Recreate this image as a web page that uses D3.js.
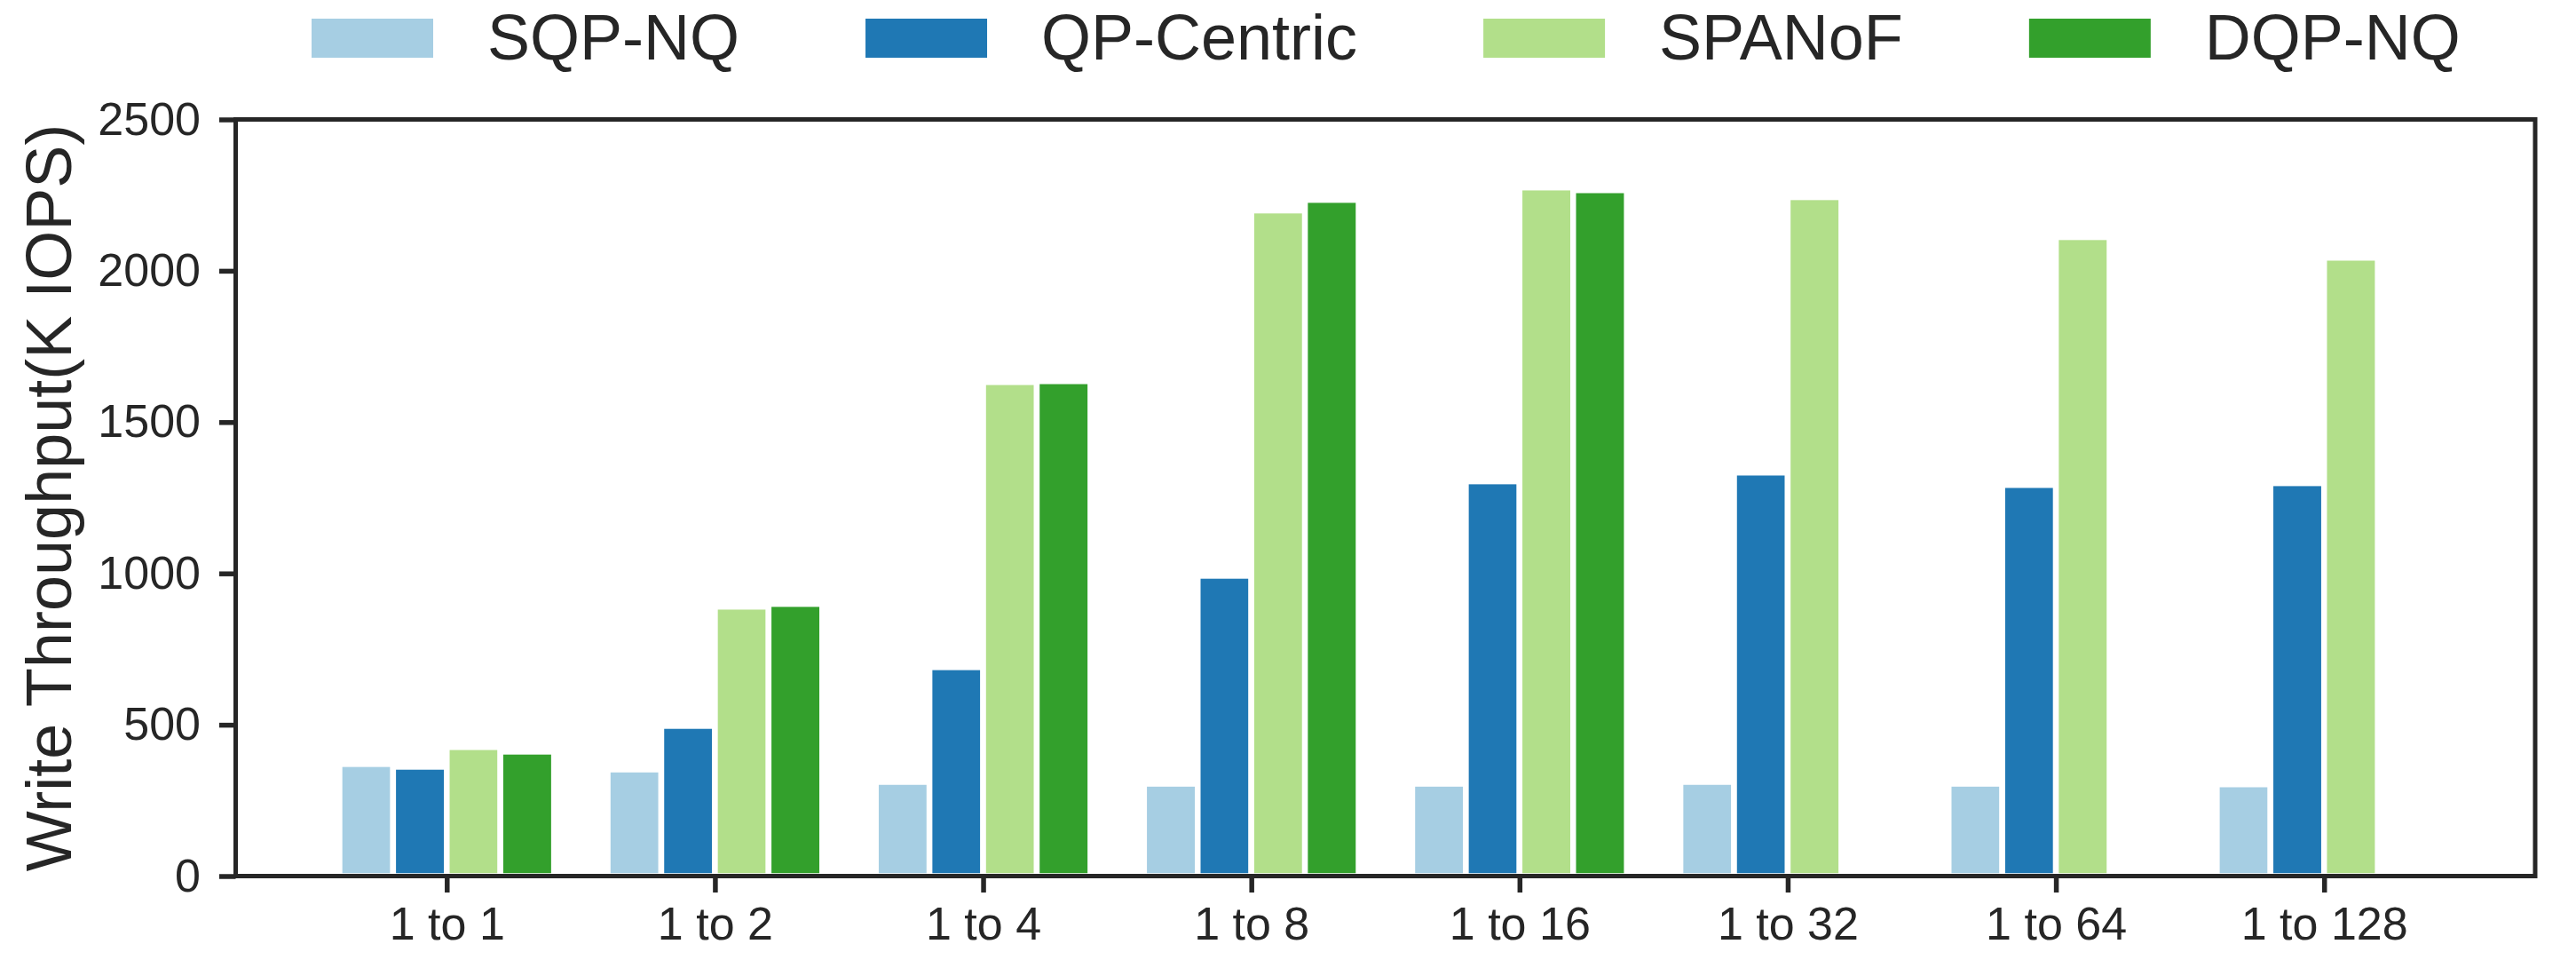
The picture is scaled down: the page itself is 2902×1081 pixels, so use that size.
<!DOCTYPE html>
<html>
<head>
<meta charset="utf-8">
<script src="https://cdn.jsdelivr.net/npm/d3@7"></script>
<style>
  body { margin: 0; background: #fff; }
  text { font-family: "Liberation Sans", Arial, Helvetica, sans-serif; fill: #262626; }
</style>
</head>
<body>
<svg id="chart" width="2902" height="1081"></svg>
<script>
var categories = ["1 to 1", "1 to 2", "1 to 4", "1 to 8", "1 to 16", "1 to 32", "1 to 64", "1 to 128"];
var seriesNames = ["SQP-NQ", "QP-Centric", "SPANoF", "DQP-NQ"];
var seriesColors = ["#a6cee3", "#1f78b4", "#b2df8a", "#33a02c"];
var sqpNq = [370, 352, 311, 305, 305, 311, 305, 303];
var qpCentric = [361, 496, 690, 992, 1304, 1333, 1292, 1298];
var spanof = [426, 890, 1632, 2199, 2275, 2243, 2111, 2043];
var dqpNq = [411, 899, 1635, 2234, 2266, null, null, null];
var yTicks = [0, 500, 1000, 1500, 2000, 2500];

var allSeries = [sqpNq, qpCentric, spanof, dqpNq];
var barWidth = 0.2;

// plot box (window.top is reserved, so own names)
var plotLeft = 265.5, plotRight = 2856, plotTop = 134.5, plotBottom = 986.5;
var ink = "#262626";

var svg = d3.select("#chart");

var x = d3.scaleLinear().domain([-0.787, categories.length - 1 + 0.787]).range([plotLeft, plotRight]);
var y = d3.scaleLinear().domain([0, 2500]).range([plotBottom, plotTop]);

// bars, one group per series
allSeries.forEach(function (vals, j) {
    var offset = (j - 2) * barWidth;
    svg.append("g").selectAll("rect")
        .data(vals.map(function (v, i) { return {i: i, v: v}; }).filter(function (d) { return d.v != null; }))
        .enter().append("rect")
        .attr("x", function (d) { return x(d.i + offset); })
        .attr("width", x(barWidth) - x(0))
        .attr("y", function (d) { return y(d.v); })
        .attr("height", function (d) { return y(0) - y(d.v); })
        .attr("fill", seriesColors[j])
        .attr("stroke", "#fff")
        .attr("stroke-width", 6.5);
});

// y axis
var yAxis = svg.append("g")
    .attr("transform", "translate(" + plotLeft + ",0)")
    .call(d3.axisLeft(y).tickValues(yTicks).tickSize(18.5).tickPadding(21).tickFormat(d3.format("d")));
yAxis.select(".domain").remove();
yAxis.selectAll("line").attr("stroke", ink).attr("stroke-width", 5.5);
yAxis.selectAll("text").style("font-size", "52px").attr("fill", ink);

// x axis
var xAxis = svg.append("g")
    .attr("transform", "translate(0," + plotBottom + ")")
    .call(d3.axisBottom(x).tickValues(d3.range(categories.length)).tickSize(18.5).tickPadding(16)
        .tickFormat(function (i) { return categories[i]; }));
xAxis.select(".domain").remove();
xAxis.selectAll("line").attr("stroke", ink).attr("stroke-width", 5.5);
xAxis.selectAll("text").style("font-size", "52px").attr("fill", ink);

// frame
svg.append("rect")
    .attr("x", plotLeft).attr("y", plotTop)
    .attr("width", plotRight - plotLeft).attr("height", plotBottom - plotTop)
    .attr("fill", "none").attr("stroke", ink).attr("stroke-width", 5);

// y label
svg.append("text")
    .attr("transform", "translate(80," + ((plotTop + plotBottom) / 2) + ") rotate(-90)")
    .attr("text-anchor", "middle")
    .style("font-size", "72px")
    .text("Write Throughput(K IOPS)");

// legend across the top
var lx = 351;
seriesNames.forEach(function (name, j) {
    var g = svg.append("g");
    g.append("rect")
        .attr("x", lx).attr("y", 21)
        .attr("width", 137).attr("height", 44)
        .attr("fill", seriesColors[j]);
    var t = g.append("text")
        .attr("x", lx + 198).attr("y", 67)
        .style("font-size", "72px")
        .text(name);
    lx = lx + 198 + t.node().getComputedTextLength() + 142;
});
</script>
</body>
</html>
